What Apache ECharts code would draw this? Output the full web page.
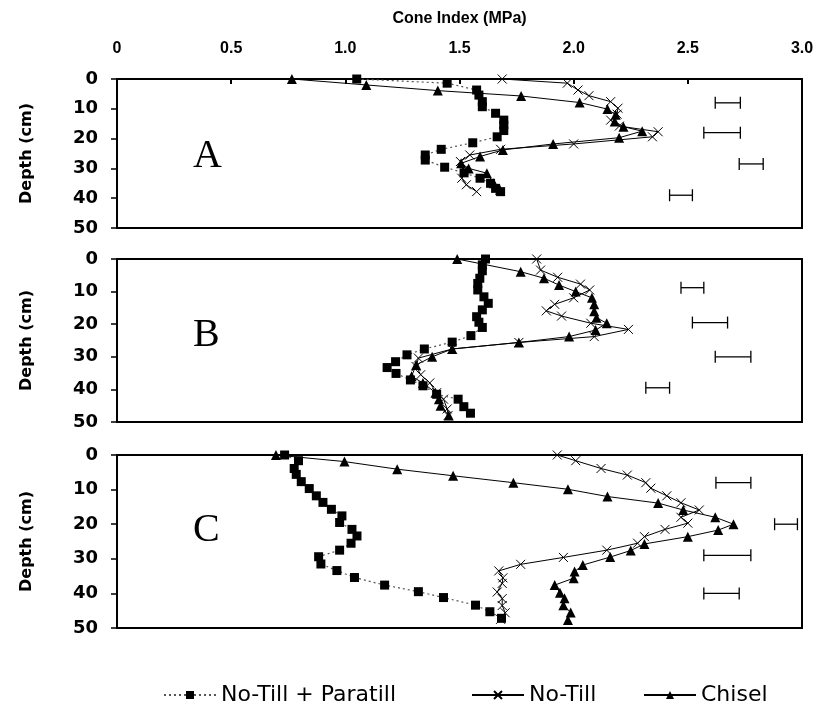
<!DOCTYPE html>
<html>
<head>
<meta charset="utf-8">
<script src="https://cdn.jsdelivr.net/npm/echarts@6/dist/echarts.min.js"></script>
<style>
  html, body { margin: 0; padding: 0; background: #fff; }
  #chart { width: 826px; height: 715px; }
</style>
</head>
<body>
<div id="chart"></div>
<script>
// [cone index (MPa), depth (cm)] pairs
const paraA = [[1.05,0],[1.446,1.4],[1.575,3.7],[1.585,5.4],[1.60,7.6],[1.60,9.3],[1.658,11.5],[1.694,13.8],[1.694,15.4],[1.694,17.3],[1.665,19.4],[1.558,21.4],[1.42,23.6],[1.35,25.5],[1.35,27.2],[1.435,29.6],[1.52,31.5],[1.59,33.3],[1.636,35],[1.658,36.7],[1.68,37.8]];
const noTillA = [[1.687,0],[1.972,1.4],[2.019,3.7],[2.067,5.6],[2.162,7.6],[2.194,9.8],[2.19,11.8],[2.162,13.8],[2.20,15.8],[2.37,17.7],[2.345,19.4],[2.0,21.8],[1.68,23.6],[1.545,25.5],[1.504,27.7],[1.52,30.5],[1.51,33.3],[1.53,35.5],[1.575,37.8]];
const chiselA = [[0.766,0],[1.092,2],[1.405,3.9],[1.77,5.7],[2.026,7.9],[2.148,10.1],[2.184,12],[2.18,14.3],[2.218,16],[2.30,17.5],[2.199,19.7],[1.91,21.8],[1.69,23.8],[1.59,26],[1.507,28.3],[1.54,30],[1.62,31.6],[1.65,35],[1.677,37.2]];
const errA = [[2.62,2.73,8],[2.57,2.73,18],[2.725,2.83,28.5],[2.42,2.52,39]];

const paraB = [[1.614,0],[1.60,1.8],[1.60,3.6],[1.589,5.9],[1.58,7.5],[1.58,9.5],[1.607,11.6],[1.626,13.6],[1.60,15.6],[1.575,17.7],[1.585,19.4],[1.60,21],[1.55,23.5],[1.468,25.5],[1.346,27.6],[1.27,29.4],[1.22,31.5],[1.183,33.3],[1.222,35.1],[1.285,37.1],[1.34,38.9],[1.40,41.5],[1.494,43],[1.519,45.3],[1.548,47.3]];
const noTillB = [[1.838,0],[1.855,3.4],[1.93,5.6],[2.03,7.7],[2.07,9.5],[2.0,11.9],[1.917,13.9],[1.88,15.9],[1.947,17.5],[2.075,19.7],[2.24,21.6],[2.09,23.8],[1.76,25.6],[1.468,27.6],[1.32,30.4],[1.31,33],[1.33,35.5],[1.37,38],[1.40,41],[1.43,43],[1.446,46],[1.45,48]];
const chiselB = [[1.49,0],[1.768,3.9],[1.87,5.9],[1.936,8],[2.009,10],[2.08,11.9],[2.09,13.9],[2.09,16],[2.10,18],[2.145,19.7],[2.096,21.8],[1.98,23.8],[1.76,25.6],[1.468,27.6],[1.38,30],[1.31,32.5],[1.29,36],[1.34,38],[1.395,41],[1.41,43],[1.417,45],[1.453,48]];
const errB = [[2.47,2.57,8.8],[2.52,2.674,19.5],[2.62,2.776,30],[2.316,2.42,39.5]];

const paraC = [[0.734,0],[0.795,1.65],[0.776,3.9],[0.785,5.6],[0.807,7.7],[0.842,9.7],[0.873,11.8],[0.902,13.7],[0.939,15.7],[0.985,17.6],[0.975,19.5],[1.029,21.5],[1.051,23.4],[1.025,25.5],[0.975,27.5],[0.883,29.4],[0.893,31.5],[0.963,33.4],[1.04,35.4],[1.172,37.6],[1.32,39.5],[1.43,41.2],[1.57,43.4],[1.633,45.3],[1.684,47.2]];
const noTillC = [[1.928,0],[2.009,1.65],[2.12,3.9],[2.235,5.8],[2.316,8],[2.338,9.6],[2.408,11.8],[2.47,13.8],[2.55,15.9],[2.47,18],[2.50,19.7],[2.40,21.5],[2.31,23.6],[2.28,25.5],[2.145,27.5],[1.955,29.6],[1.768,31.6],[1.672,33.5],[1.69,35.5],[1.687,37.1],[1.665,39.6],[1.687,41.5],[1.687,43.5],[1.70,45.6],[1.68,47.5]];
const chiselC = [[0.696,0],[0.996,1.9],[1.227,4.1],[1.472,6],[1.736,8],[1.975,9.9],[2.148,12],[2.37,13.9],[2.48,15.9],[2.62,18],[2.70,20],[2.633,21.7],[2.50,23.6],[2.31,25.7],[2.25,27.6],[2.16,29.5],[2.04,31.8],[2.004,33.7],[2.0,35.6],[1.917,37.6],[1.94,39.8],[1.96,41.4],[1.955,43.4],[1.987,45.5],[1.975,47.7]];
const errC = [[2.623,2.776,8],[2.88,2.98,20],[2.57,2.776,29],[2.57,2.725,40]];

const panelLetters = ['A', 'B', 'C'];
const seriesNames = ['No-Till + Paratill', 'No-Till', 'Chisel'];

const panels = [
  { para: paraA, noTill: noTillA, chisel: chiselA, err: errA },
  { para: paraB, noTill: noTillB, chisel: chiselB, err: errB },
  { para: paraC, noTill: noTillC, chisel: chiselC, err: errC }
];

// layout of the three stacked boxes
const boxes = [
  { top: 79, height: 149 },
  { top: 259, height: 163 },
  { top: 455, height: 173 }
];
const FONT = 'Liberation Sans, Arial, sans-serif';
const WIDE = '"DejaVu Sans", Verdana, sans-serif';
const CROSS = 'path://M0,0L10,10M10,0L0,10';

const grids = boxes.map(function (b) {
  return { left: 117, width: 685, top: b.top, height: b.height, show: true, borderColor: '#000', borderWidth: 2, backgroundColor: '#fff' };
});

const xAxes = boxes.map(function (b, i) {
  const first = i === 0;
  return {
    type: 'value', gridIndex: i, min: 0, max: 3, interval: 0.5, position: 'top',
    name: first ? 'Cone Index (MPa)' : '', nameLocation: 'middle', nameGap: 52,
    nameTextStyle: { fontFamily: FONT, fontWeight: 'bold', fontSize: 16, color: '#000' },
    axisLine: { show: false },
    axisTick: { show: first, inside: true, length: 5, lineStyle: { color: '#000', width: 2 } },
    axisLabel: {
      show: first, margin: 22, fontFamily: FONT, fontWeight: 'bold', fontSize: 16, color: '#000',
      formatter: function (v) { return v === 0 ? '0' : v.toFixed(1); }
    },
    splitLine: { show: false }
  };
});

const yAxes = boxes.map(function (b, i) {
  return {
    type: 'value', gridIndex: i, min: 0, max: 50, interval: 10, inverse: true,
    name: 'Depth (cm)', nameLocation: 'middle', nameGap: 82, nameRotate: 90,
    nameTextStyle: { fontFamily: WIDE, fontWeight: 'bold', fontSize: 16, color: '#000' },
    axisLine: { show: true, lineStyle: { color: '#000', width: 2 } },
    axisTick: { show: true, length: 6, lineStyle: { color: '#000', width: 1.5 } },
    axisLabel: { margin: 19, fontFamily: WIDE, fontWeight: 'bold', fontSize: 18, color: '#000' },
    splitLine: { show: false }
  };
});

function errRender(params, api) {
  const d = api.value(2);
  const a = api.coord([api.value(0), d]);
  const b = api.coord([api.value(1), d]);
  const st = { stroke: '#000', lineWidth: 1.3 };
  return {
    type: 'group',
    children: [
      { type: 'line', shape: { x1: a[0], y1: a[1], x2: b[0], y2: b[1] }, style: st },
      { type: 'line', shape: { x1: a[0], y1: a[1] - 6, x2: a[0], y2: a[1] + 6 }, style: st },
      { type: 'line', shape: { x1: b[0], y1: b[1] - 6, x2: b[0], y2: b[1] + 6 }, style: st }
    ]
  };
}

const series = [];
panels.forEach(function (p, i) {
  series.push({
    name: seriesNames[0], type: 'line', xAxisIndex: i, yAxisIndex: i, data: p.para,
    symbol: 'rect', symbolSize: 9, z: 3,
    lineStyle: { color: '#555', width: 1.2, type: [2, 3] },
    itemStyle: { color: '#000' }
  });
  series.push({
    name: seriesNames[1], type: 'line', xAxisIndex: i, yAxisIndex: i, data: p.noTill,
    symbol: CROSS, symbolSize: 9, z: 2,
    lineStyle: { color: '#000', width: 1 },
    itemStyle: { color: '#000', borderColor: '#000', borderWidth: 1 }
  });
  series.push({
    name: seriesNames[2], type: 'line', xAxisIndex: i, yAxisIndex: i, data: p.chisel,
    symbol: 'triangle', symbolSize: 10, z: 4,
    lineStyle: { color: '#000', width: 1 },
    itemStyle: { color: '#000' }
  });
  series.push({
    type: 'custom', xAxisIndex: i, yAxisIndex: i, data: p.err,
    encode: { x: [0, 1], y: 2 }, renderItem: errRender, silent: true
  });
});

const letterTops = [136, 315, 510];
const graphics = panelLetters.map(function (t, i) {
  return {
    type: 'text', left: 193, top: letterTops[i],
    style: { text: t, font: '40px "Liberation Serif", "Times New Roman", serif', fill: '#000' }
  };
});

// one legend per entry so each sits where the original puts it
const legendLefts = [158, 466, 638];
const legends = seriesNames.map(function (n, i) {
  return {
    data: [n], left: legendLefts[i], top: 679, itemWidth: 52, itemHeight: 10,
    textStyle: { fontFamily: WIDE, fontSize: 22, color: '#000' }
  };
});

const chart = echarts.init(document.getElementById('chart'));
chart.setOption({
  animation: false,
  backgroundColor: '#fff',
  grid: grids,
  xAxis: xAxes,
  yAxis: yAxes,
  legend: legends,
  graphic: graphics,
  series: series
});
</script>
</body>
</html>
